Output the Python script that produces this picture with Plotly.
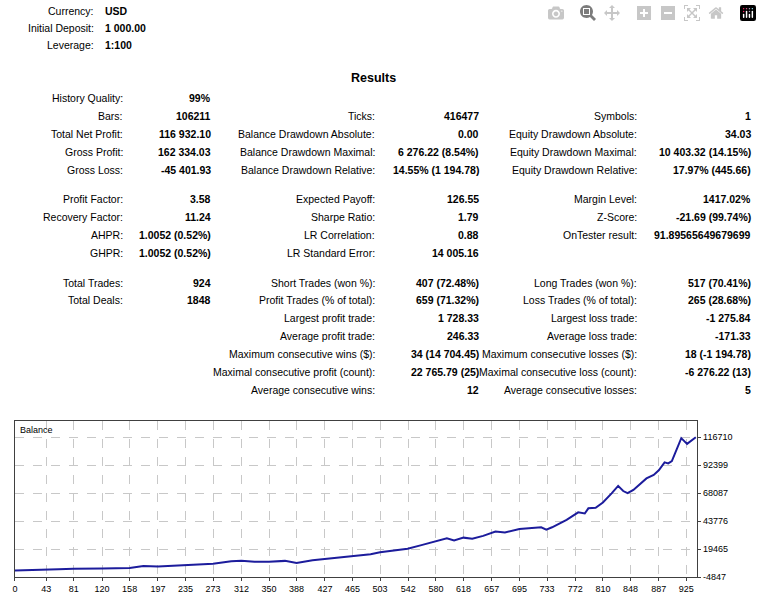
import plotly.graph_objects as go

W, H = 762, 600
trade_idx = [0, 20, 43, 60, 81, 100, 120, 158, 177, 197, 235, 273, 298, 312, 330, 350, 372, 388, 410, 427, 447, 465, 490, 503, 520, 541, 560, 580, 595, 605, 618, 630, 645, 662, 675, 695, 715, 725, 732, 740, 760, 776, 785, 790, 800, 810, 822, 831, 838, 844, 852, 870, 880, 887, 895, 900, 905, 918, 926, 938]
balance = [1000, 1200, 1500, 2000, 2500, 2300, 2700, 3200, 4900, 4500, 5600, 6800, 8950, 9500, 8600, 8600, 9300, 7400, 9800, 11000, 11800, 13500, 15000, 16800, 18000, 19900, 23000, 26500, 29000, 27000, 29500, 28500, 31000, 34800, 34000, 37000, 38000, 38500, 36500, 38500, 45000, 51450, 50500, 55000, 55500, 60000, 68000, 74470, 70000, 68170, 71000, 81000, 84000, 88000, 95000, 94000, 96000, 116000, 111000, 116710]
x_ticks = [0, 43, 81, 120, 158, 197, 235, 273, 312, 350, 388, 427, 465, 503, 542, 580, 618, 657, 695, 733, 772, 810, 848, 887, 925]
y_ticks = [-4847, 19465, 43776, 68087, 92399, 116710]

header_labels = ["Currency:", "Initial Deposit:", "Leverage:"]
header_values = ["USD", "1 000.00", "1:100"]
header_y = [11, 28, 45]

col1_labels = ["History Quality:", "Bars:", "Total Net Profit:", "Gross Profit:", "Gross Loss:", "Profit Factor:", "Recovery Factor:", "AHPR:", "GHPR:", "Total Trades:", "Total Deals:"]
col1_values = ["99%", "106211", "116 932.10", "162 334.03", "-45 401.93", "3.58", "11.24", "1.0052 (0.52%)", "1.0052 (0.52%)", "924", "1848"]
col1_y = [99, 117, 135, 153, 171, 201, 219, 237, 255, 285, 303]

col2_labels = ["Ticks:", "Balance Drawdown Absolute:", "Balance Drawdown Maximal:", "Balance Drawdown Relative:", "Expected Payoff:", "Sharpe Ratio:", "LR Correlation:", "LR Standard Error:", "Short Trades (won %):", "Profit Trades (% of total):", "Largest profit trade:", "Average profit trade:", "Maximum consecutive wins ($):", "Maximal consecutive profit (count):", "Average consecutive wins:"]
col2_values = ["416477", "0.00", "6 276.22 (8.54%)", "14.55% (1 194.78)", "126.55", "1.79", "0.88", "14 005.16", "407 (72.48%)", "659 (71.32%)", "1 728.33", "246.33", "34 (14 704.45)", "22 765.79 (25)", "12"]
col2_y = [117, 135, 153, 171, 201, 219, 237, 255, 285, 303, 321, 339, 357, 375, 393]

col3_labels = ["Symbols:", "Equity Drawdown Absolute:", "Equity Drawdown Maximal:", "Equity Drawdown Relative:", "Margin Level:", "Z-Score:", "OnTester result:", "Long Trades (won %):", "Loss Trades (% of total):", "Largest loss trade:", "Average loss trade:", "Maximum consecutive losses ($):", "Maximal consecutive loss (count):", "Average consecutive losses:"]
col3_values = ["1", "34.03", "10 403.32 (14.15%)", "17.97% (445.66)", "1417.02%", "-21.69 (99.74%)", "91.89565649679699", "517 (70.41%)", "265 (28.68%)", "-1 275.84", "-171.33", "18 (-1 194.78)", "-6 276.22 (13)", "5"]
col3_y = [117, 135, 153, 171, 201, 219, 237, 285, 303, 321, 339, 357, 375, 393]

FONT = "Liberation Sans"
anns = []
def txt(x, y, s, anchor, bold=False, size=10.5):
    anns.append(dict(x=x / W, y=1 - y / H, xref="paper", yref="paper", text=f"<b>{s}</b>" if bold else s,
                     showarrow=False, xanchor=anchor, yanchor="middle",
                     font=dict(family=FONT, size=size, color="#000")))

for l, v, y in zip(header_labels, header_values, header_y):
    txt(93, y, l, "right"); txt(100, y, v, "left", True)
txt(372, 79, "Results", "center", True, 12.5)
for labels, values, ys, lx, vx in [(col1_labels, col1_values, col1_y, 122, 211),
                                    (col2_labels, col2_values, col2_y, 375, 480),
                                    (col3_labels, col3_values, col3_y, 639, 753)]:
    for l, v, y in zip(labels, values, ys):
        txt(lx, y, l, "right"); txt(vx, y, v, "right", True)

anns.append(dict(x=0.005, y=0.99, xref="x domain", yref="y domain", text="Balance", showarrow=False,
                 xanchor="left", yanchor="top", font=dict(family=FONT, size=9, color="#000")))

fig = go.Figure(go.Scatter(x=trade_idx, y=balance, mode="lines", line=dict(color="#1c1c9c", width=2), hoverinfo="skip"))
grid = dict(showgrid=True, gridcolor="#c8c8c8", griddash="dash", gridwidth=1, zeroline=False,
            showline=True, linecolor="#404040", linewidth=1, mirror=True,
            tickfont=dict(family=FONT, size=9, color="#000"), ticks="outside", ticklen=3, tickcolor="#404040")
fig.update_layout(width=W, height=H, margin=dict(l=0, r=0, t=0, b=0), paper_bgcolor="white", plot_bgcolor="white",
                  showlegend=False, annotations=anns,
                  xaxis=dict(domain=[12 / W, 697 / W], range=[0, 940], tickvals=x_ticks, ticktext=[str(t) for t in x_ticks], **grid),
                  yaxis=dict(domain=[1 - 582 / H, 1 - 425 / H], range=[-4847, 130500], side="right",
                             tickvals=y_ticks, ticktext=[str(t) for t in y_ticks], **grid))
fig.write_html("out.html")
with open("out.html", encoding="utf-8") as f:
    html = f.read()
html = html.replace("<body>", '<body style="margin:0;overflow:hidden">', 1)
with open("out.html", "w", encoding="utf-8") as f:
    f.write(html)
